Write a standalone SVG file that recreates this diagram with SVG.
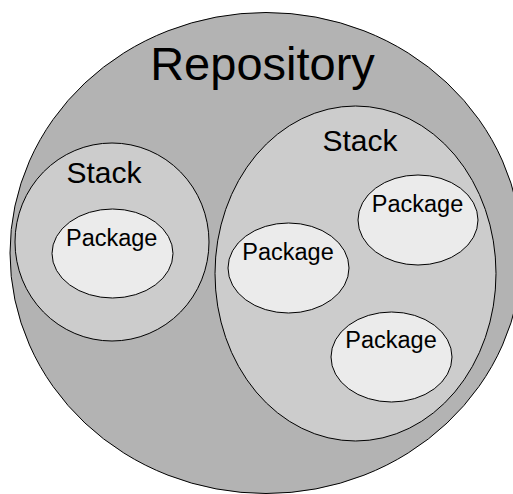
<svg xmlns="http://www.w3.org/2000/svg" width="513" height="494" viewBox="0 0 513 494">
  <style>
    .shape { stroke: #000; stroke-width: 1; }
    .repo { fill: #b3b3b3; }
    .stack { fill: #cccccc; }
    .pkg { fill: #ebebeb; }
    text { font-family: "Liberation Sans", Arial, Helvetica, sans-serif; fill: #000; text-anchor: middle; }
    .t-repo { font-size: 47px; }
    .t-stack { font-size: 30px; }
    .t-pkg { font-size: 23.5px; }
  </style>
  <rect width="513" height="494" fill="#ffffff"/>

  <!-- outer repository ellipse runs slightly past the right edge of the canvas -->
  <g id="repository">
    <ellipse class="shape repo" cx="266" cy="253" rx="256" ry="240.5"/>
    <text class="t-repo" x="262.5" y="80">Repository</text>
  </g>

  <g id="stack-left">
    <ellipse class="shape stack" cx="112" cy="242" rx="97" ry="99"/>
    <text class="t-stack" x="104" y="183">Stack</text>
  </g>

  <g id="stack-right">
    <ellipse class="shape stack" cx="355.5" cy="273.5" rx="140.5" ry="167.5"/>
    <text class="t-stack" x="360" y="151">Stack</text>
  </g>

  <g id="package-left">
    <ellipse class="shape pkg" cx="112.5" cy="253.5" rx="60.5" ry="44.5"/>
    <text class="t-pkg" x="111.7" y="246">Package</text>
  </g>

  <g id="package-middle">
    <ellipse class="shape pkg" cx="288.5" cy="268" rx="60.5" ry="45"/>
    <text class="t-pkg" x="288" y="260">Package</text>
  </g>

  <g id="package-top">
    <ellipse class="shape pkg" cx="418" cy="220" rx="60" ry="45"/>
    <text class="t-pkg" x="417.5" y="212">Package</text>
  </g>

  <g id="package-bottom">
    <ellipse class="shape pkg" cx="391.5" cy="357" rx="60.5" ry="45"/>
    <text class="t-pkg" x="391" y="348">Package</text>
  </g>

  <g id="connectors"/>
</svg>
